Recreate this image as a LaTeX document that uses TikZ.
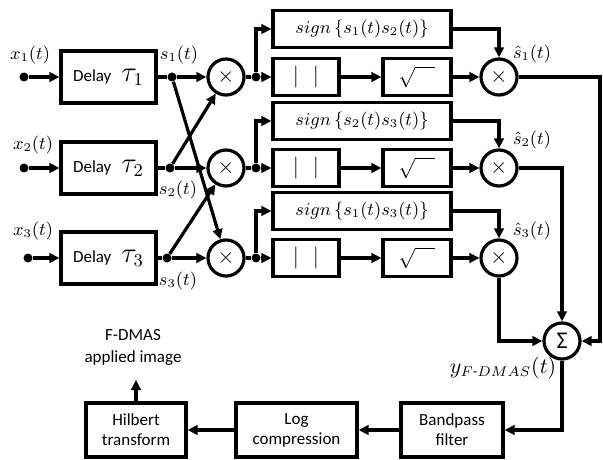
\documentclass[tikz,border=0pt]{standalone}
\usepackage{amsmath}
\usepackage{fontspec}
\setmainfont{Carlito}
\usetikzlibrary{arrows.meta,calc}
\newcommand{\mytau}[1]{{\fontsize{13.5}{13.5}\selectfont$\tau_{#1}$}}
\newcommand{\myabs}{{\fontsize{11}{11}\selectfont$|$\hspace{7pt}$|$}}
\newcommand{\mysqrt}{{\fontsize{10}{10}\selectfont$\sqrt{\vphantom{x}\hspace{10pt}}$}}
\begin{document}
\begin{tikzpicture}[x=0.5pt,y=-0.5pt,
  box/.style={draw, line width=1.6pt, inner sep=0pt, align=center, font=\fontsize{8.5}{10}\selectfont},
  mult/.style={draw, circle, line width=1.6pt, minimum size=18pt, inner sep=0pt, font=\fontsize{10.5}{10}\selectfont},
  jdot/.style={circle, fill, inner sep=0pt, minimum size=4.5pt},
  conn/.style={line width=1.6pt, -{Triangle[length=5pt,width=4.8pt]}},
  wire/.style={line width=1.6pt},
  lbl/.style={inner sep=0pt, font=\fontsize{9}{10}\selectfont},
  signbox/.style={box, minimum width=89pt, minimum height=18.5pt, font=\fontsize{8.8}{10}\selectfont},
  absbox/.style={box, minimum width=33pt, minimum height=18.5pt},
  sqbox/.style={box, minimum width=34pt, minimum height=18.5pt},
  delaybox/.style={box, minimum width=47.5pt, minimum height=26pt},
  botbox/.style={box, minimum height=27pt}]
\useasboundingbox (0,0) rectangle (603,459);

% inputs
\node[jdot] (i1) at (24,77) {};
\node[jdot] (i2) at (24,168) {};
\node[jdot] (i3) at (28,258) {};
\node[lbl] (lx1) at (30,55) {$x_1(t)$};
\node[lbl] (lx2) at (33,145) {$x_2(t)$};
\node[lbl] (lx3) at (33,231) {$x_3(t)$};

% delays
\node[delaybox] (d1) at (108.5,77) {Delay\hspace{5pt}\mytau{1}};
\node[delaybox] (d2) at (108.5,168) {Delay\hspace{5pt}\mytau{2}};
\node[delaybox] (d3) at (108.5,258) {Delay\hspace{5pt}\mytau{3}};
\draw[conn] (i1) -- (d1);
\draw[conn] (i2) -- (d2);
\draw[conn] (i3) -- (d3);

% junctions
\node[jdot] (j1) at (172,77) {};
\node[jdot] (j2) at (170,168) {};
\node[jdot] (j3) at (167,258) {};
\node[lbl] (ls1) at (179,55) {$s_1(t)$};
\node[lbl] (ls2) at (178,190) {$s_2(t)$};
\node[lbl] (ls3) at (178,281) {$s_3(t)$};

% multipliers
\node[mult] (m1) at (226,77) {$\times$};
\node[mult] (m2) at (226,168) {$\times$};
\node[mult] (m3) at (226,258) {$\times$};

\draw[wire] (d1) -- (j1);
\draw[wire] (d2) -- (j2);
\draw[wire] (d3) -- (j3);
\draw[conn] (j1) -- (m1);
\draw[conn] (j2) -- (m2);
\draw[conn] (j3) -- (m3);
\draw[conn] (j1) -- (m3);
\draw[conn] (j2) -- (m1);
\draw[conn] (j3) -- (m2);

% branch dots
\node[jdot] (b1) at (256,77) {};
\node[jdot] (b2) at (256,168) {};
\node[jdot] (b3) at (256,258) {};
\draw[wire] (m1) -- (b1);
\draw[wire] (m2) -- (b2);
\draw[wire] (m3) -- (b3);

% sign boxes
\node[signbox] (sg1) at (362,29) {$sign\,\{s_1(t)s_2(t)\}$};
\node[signbox] (sg2) at (362,121) {$sign\,\{s_2(t)s_3(t)\}$};
\node[signbox] (sg3) at (362,211) {$sign\,\{s_1(t)s_3(t)\}$};

% abs and sqrt boxes
\node[absbox] (a1) at (306,77) {\myabs};
\node[absbox] (a2) at (306,168) {\myabs};
\node[absbox] (a3) at (306,258) {\myabs};
\node[sqbox] (q1) at (417,77) {\mysqrt};
\node[sqbox] (q2) at (417,168) {\mysqrt};
\node[sqbox] (q3) at (417,258) {\mysqrt};

\draw[conn] (b1) -- (a1);
\draw[conn] (b2) -- (a2);
\draw[conn] (b3) -- (a3);
\draw[conn] (b1) |- (sg1);
\draw[conn] (b2) |- (sg2);
\draw[conn] (b3) |- (sg3);
\draw[conn] (a1) -- (q1);
\draw[conn] (a2) -- (q2);
\draw[conn] (a3) -- (q3);

% output multipliers
\node[mult] (p1) at (499,77) {$\times$};
\node[mult] (p2) at (499,168) {$\times$};
\node[mult] (p3) at (499,258) {$\times$};
\draw[conn] (q1) -- (p1);
\draw[conn] (q2) -- (p2);
\draw[conn] (q3) -- (p3);
\draw[conn] (sg1.east) -| (p1);
\draw[conn] (sg2.east) -| (p2);
\draw[conn] (sg3.east) -| (p3);
\node[lbl] (lh1) at (532,54) {$\hat{s}_1(t)$};
\node[lbl] (lh2) at (532,140) {$\hat{s}_2(t)$};
\node[lbl] (lh3) at (532,231) {$\hat{s}_3(t)$};

% sum
\node[mult, font=\fontsize{12}{12}\selectfont] (sum) at (562,341) {Σ};
\coordinate (r1) at (600,77);
\draw[conn] (p1) -- (r1) |- (sum);
\draw[conn] (p2) -| (sum);
\draw[conn] (p3) |- (sum);
\node[lbl, font=\fontsize{10.5}{11}\selectfont] (ly) at (503,368) {$y_{F\textit{-}DMAS}(t)$};

% bottom chain
\node[botbox, minimum width=51pt] (bp) at (452,430) {Bandpass\\filter};
\node[botbox, minimum width=60.5pt] (lc) at (296.5,430) {Log\\compression};
\node[botbox, minimum width=50pt] (hb) at (136,430) {Hilbert\\transform};
\draw[conn] (sum) |- (bp);
\draw[conn] (bp) -- (lc);
\draw[conn] (lc) -- (hb);
\coordinate (out) at (136,380);
\draw[conn] (hb) -- (out);
\node[lbl, align=center, font=\fontsize{8.5}{11}\selectfont] (outlbl) at (133,347) {F-DMAS\\applied image};
\end{tikzpicture}
\end{document}
